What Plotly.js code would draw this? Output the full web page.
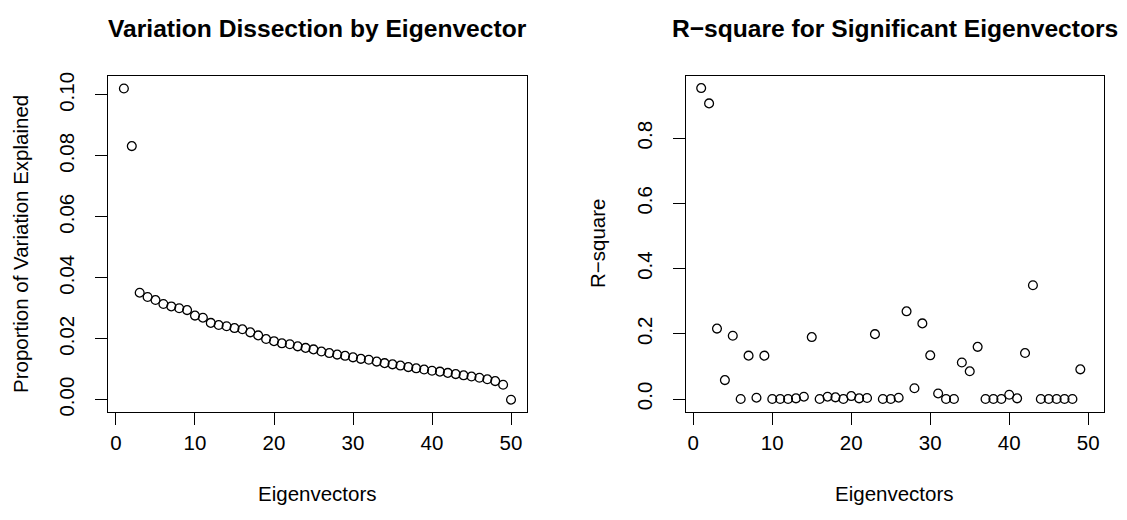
<!DOCTYPE html>
<html>
<head>
<meta charset="utf-8">
<script src="https://cdn.plot.ly/plotly-3.0.1.min.js"></script>
<style>html,body{margin:0;padding:0;background:#fff;}#chart{width:1127px;height:520px;}</style>
</head>
<body>
<div id="chart"></div>
<script>
// ---- Data ----
const eigenIndex = [1,2,3,4,5,6,7,8,9,10,11,12,13,14,15,16,17,18,19,20,21,22,23,24,25,
                    26,27,28,29,30,31,32,33,34,35,36,37,38,39,40,41,42,43,44,45,46,47,48,49,50];
const propVariation = [0.1021,0.0832,0.0351,0.0337,0.0327,0.0314,0.0306,0.0300,0.0294,0.0276,
                       0.0269,0.0252,0.0245,0.0241,0.0235,0.0231,0.0221,0.0211,0.0199,0.0192,
                       0.0185,0.0182,0.0175,0.0170,0.0165,0.0158,0.0153,0.0148,0.0144,0.0139,
                       0.0134,0.0131,0.0125,0.0120,0.0116,0.0112,0.0107,0.0103,0.0099,0.0095,
                       0.0092,0.0088,0.0084,0.0080,0.0076,0.0072,0.0067,0.0061,0.0049,0.0000];
const sigIndex = [1,2,3,4,5,6,7,8,9,10,11,12,13,14,15,16,17,18,19,20,21,22,23,24,25,
                  26,27,28,29,30,31,32,33,34,35,36,37,38,39,40,41,42,43,44,45,46,47,48,49];
const rSquare = [0.954,0.907,0.216,0.058,0.194,0.000,0.133,0.004,0.133,0.000,
                 0.000,0.000,0.002,0.007,0.190,0.000,0.007,0.005,0.000,0.009,
                 0.002,0.003,0.199,0.000,0.000,0.004,0.269,0.033,0.232,0.134,
                 0.017,0.000,0.000,0.112,0.085,0.160,0.000,0.000,0.000,0.013,
                 0.002,0.141,0.349,0.000,0.000,0.000,0.000,0.000,0.091];
const xTicks = [0,10,20,30,40,50];
const leftYTicks = [0,0.02,0.04,0.06,0.08,0.10];
const rightYTicks = [0,0.2,0.4,0.6,0.8];
const leftTitle = "Variation Dissection by Eigenvector";
const rightTitle = "R\u2212square for Significant Eigenvectors";
const xLabel = "Eigenvectors";
const leftYLabel = "Proportion of Variation Explained";
const rightYLabel = "R\u2212square";

// ---- Layout helpers (pixel -> paper) ----
const W = 1127, H = 520;
const px = v => v / W;
const py = v => 1 - v / H;
const FONT = "Liberation Sans, Arial, Helvetica, sans-serif";
const BASE = 20.5;

const marker = {symbol: 'circle', size: 8.8, color: 'rgba(0,0,0,0)',
                line: {color: '#000', width: 1.3}};

const traces = [
  {x: eigenIndex, y: propVariation, type: 'scatter', mode: 'markers',
   marker: marker, xaxis: 'x', yaxis: 'y', hoverinfo: 'x+y'},
  {x: sigIndex, y: rSquare, type: 'scatter', mode: 'markers',
   marker: marker, xaxis: 'x2', yaxis: 'y2', hoverinfo: 'x+y'}
];

function xAxis(domain) {
  return {domain: domain, range: [-0.96, 51.96], tickvals: xTicks,
          ticks: 'outside', ticklen: 12, tickwidth: 1, tickcolor: '#000',
          showline: true, mirror: true, linecolor: '#000', linewidth: 1,
          showgrid: false, zeroline: false,
          tickfont: {family: FONT, size: BASE, color: '#000'}, ticklabelstandoff: 0};
}
function yAxis(domain, range, ticks, fmt, anchor) {
  return {domain: domain, range: range, tickvals: ticks, tickformat: fmt, anchor: anchor,
          ticks: 'outside', ticklen: 12, tickwidth: 1, tickcolor: '#000',
          showline: true, mirror: true, linecolor: '#000', linewidth: 1,
          showgrid: false, zeroline: false, tickangle: -90,
          tickfont: {family: FONT, size: BASE, color: '#000'}, ticklabelstandoff: 13};
}

const yDom = [py(412.2), py(76)];
const leftX = [px(108.4), px(526.5)];
const rightX = [px(685.7), px(1103.7)];

const layout = {
  width: W, height: H,
  margin: {l: 0, r: 0, t: 0, b: 0},
  paper_bgcolor: '#fff', plot_bgcolor: '#fff',
  showlegend: false,
  font: {family: FONT, color: '#000'},
  xaxis: Object.assign(xAxis(leftX), {anchor: 'y'}),
  yaxis: yAxis(yDom, [-0.0041, 0.1062], leftYTicks, '.2f', 'x'),
  xaxis2: Object.assign(xAxis(rightX), {anchor: 'y2'}),
  yaxis2: yAxis(yDom, [-0.0405, 0.991], rightYTicks, '.1f', 'x2'),
  annotations: [
    {text: '<b>' + leftTitle + '</b>', x: px(317.5), y: py(28), xref: 'paper', yref: 'paper',
     xanchor: 'center', yanchor: 'middle', showarrow: false, font: {family: FONT, size: 24.6}},
    {text: '<b>' + rightTitle + '</b>', x: px(894.7), y: py(28), xref: 'paper', yref: 'paper',
     xanchor: 'center', yanchor: 'middle', showarrow: false, font: {family: FONT, size: 24.6}},
    {text: xLabel, x: px(317.5), y: py(493), xref: 'paper', yref: 'paper',
     xanchor: 'center', yanchor: 'middle', showarrow: false, font: {family: FONT, size: BASE}},
    {text: xLabel, x: px(894.7), y: py(493), xref: 'paper', yref: 'paper',
     xanchor: 'center', yanchor: 'middle', showarrow: false, font: {family: FONT, size: BASE}},
    {text: leftYLabel, x: px(20), y: py(244), xref: 'paper', yref: 'paper', textangle: -90,
     xanchor: 'center', yanchor: 'middle', showarrow: false, font: {family: FONT, size: BASE}},
    {text: rightYLabel, x: px(597), y: py(244), xref: 'paper', yref: 'paper', textangle: -90,
     xanchor: 'center', yanchor: 'middle', showarrow: false, font: {family: FONT, size: BASE}}
  ]
};

Plotly.newPlot('chart', traces, layout, {staticPlot: true, displayModeBar: false});
</script>
</body>
</html>
